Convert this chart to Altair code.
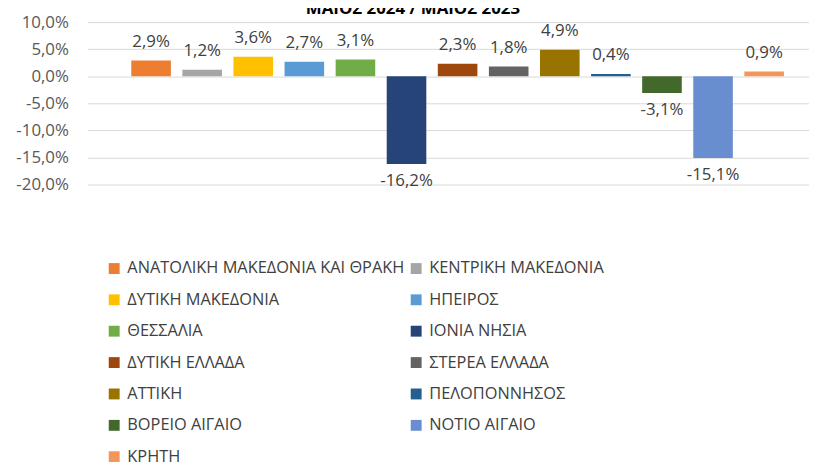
import altair as alt
import pandas as pd

regions = [
    "ΑΝΑΤΟΛΙΚΗ ΜΑΚΕΔΟΝΙΑ ΚΑΙ ΘΡΑΚΗ", "ΚΕΝΤΡΙΚΗ ΜΑΚΕΔΟΝΙΑ", "ΔΥΤΙΚΗ ΜΑΚΕΔΟΝΙΑ",
    "ΗΠΕΙΡΟΣ", "ΘΕΣΣΑΛΙΑ", "ΙΟΝΙΑ ΝΗΣΙΑ", "ΔΥΤΙΚΗ ΕΛΛΑΔΑ", "ΣΤΕΡΕΑ ΕΛΛΑΔΑ",
    "ΑΤΤΙΚΗ", "ΠΕΛΟΠΟΝΝΗΣΟΣ", "ΒΟΡΕΙΟ ΑΙΓΑΙΟ", "ΝΟΤΙΟ ΑΙΓΑΙΟ", "ΚΡΗΤΗ",
]
values = [2.9, 1.2, 3.6, 2.7, 3.1, -16.2, 2.3, 1.8, 4.9, 0.4, -3.1, -15.1, 0.9]
colors = [
    "#ED7D31", "#A5A5A5", "#FFC000", "#5B9BD5", "#70AD47", "#264478", "#9E480E",
    "#636363", "#997300", "#255E91", "#43682B", "#698ED0", "#F1975A",
]
y_ticks = [-20, -15, -10, -5, 0, 5, 10]
title_text = "ΜΑΪΟΣ 2024 / ΜΑΪΟΣ 2023"

df = pd.DataFrame({"region": regions, "v": values})

FONT = "Open Sans"

base = alt.Chart(df).transform_calculate(
    label="(datum.v < 0 ? '-' : '') + replace(format(abs(datum.v), '.1f'), '.', ',') + '%'"
)

x = alt.X("region:N", sort=regions, axis=None,
          scale=alt.Scale(paddingInner=0.225, paddingOuter=0.6765, align=0.6375))

y = alt.Y("v:Q", scale=alt.Scale(domain=[-20, 10], nice=False, zero=True),
          axis=alt.Axis(values=y_ticks, title=None, domain=False, ticks=False,
                        grid=True, gridColor="#D9D9D9", gridWidth=1,
                        labelFont=FONT, labelFontSize=17, labelColor="#595959",
                        labelPadding=19, labelOverlap=False, labelFlush=False,
                        labelExpr="(datum.value < 0 ? '-' : '') + replace(format(abs(datum.value), '.1f'), '.', ',') + '%'"))

bars = base.mark_bar().encode(
    x=x,
    y=y,
    color=alt.Color("region:N", sort=regions,
                    scale=alt.Scale(domain=regions, range=colors),
                    legend=alt.Legend(title=None, orient="none", legendX=19, legendY=240.5,
                                      direction="horizontal",
                                      columns=2, symbolType="square", symbolSize=121,
                                      symbolStrokeWidth=0, labelFont=FONT,
                                      labelFontSize=16.5, labelColor="#404040",
                                      labelOffset=5, rowPadding=14.7, columnPadding=3,
                                      labelLimit=400)),
)

pos_labels = base.transform_filter("datum.v >= 0").mark_text(
    baseline="bottom", dy=-10, font=FONT, fontSize=17, color="#404040"
).encode(x=x, y=y, text="label:N")

neg_labels = base.transform_filter("datum.v < 0").mark_text(
    baseline="top", dy=9, font=FONT, fontSize=17, color="#404040"
).encode(x=x, y=y, text="label:N")

title = alt.Chart(pd.DataFrame({"t": [title_text]})).mark_text(
    font=FONT, fontSize=17, fontWeight="bold", color="#000000",
    baseline="alphabetic", align="center"
).encode(x=alt.value(329), y=alt.value(-8), text="t:N")

chart = alt.layer(bars, pos_labels, neg_labels, title).properties(
    width=729, height=164,
    autosize=alt.AutoSizeParams(type="none"),
    padding={"left": 80, "top": 12, "right": 0, "bottom": 278},
).configure_view(stroke=None)

chart.save("out.html", embed_options={"renderer": "svg", "actions": False})
